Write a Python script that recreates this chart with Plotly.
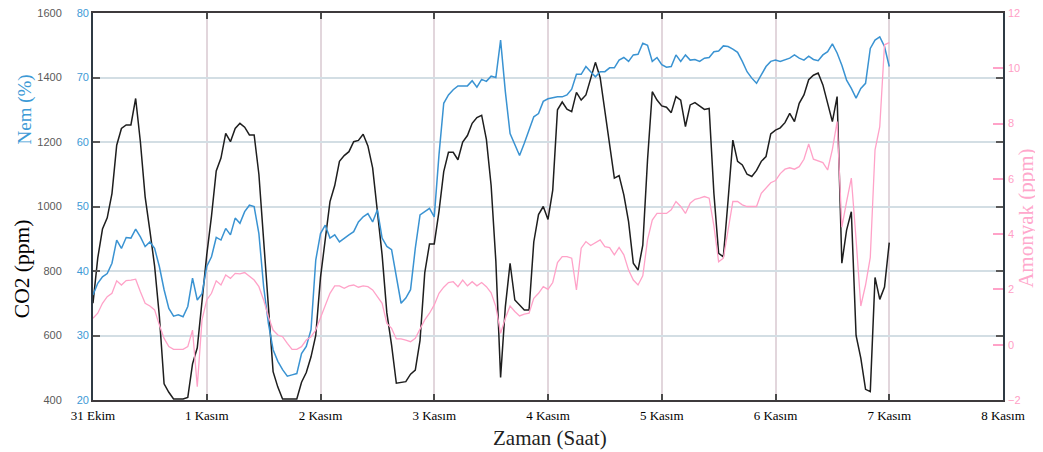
import pandas as pd
import plotly.graph_objects as go

# Hourly samples from 31 Ekim 00:00 to 7 Kasım 00:00
time = pd.date_range("2019-10-31 00:00", periods=169, freq="h")

co2 = [
    700, 840, 930, 965, 1040, 1190, 1242, 1253, 1253, 1335,
    1200, 1030, 925, 815, 660, 450, 424, 403, 403, 403,
    408, 512, 562, 708, 850, 970, 1110, 1150, 1227, 1201,
    1242, 1258, 1246, 1222, 1222, 1100, 898, 670, 488, 440,
    403, 403, 403, 403, 455, 485, 534, 600, 780, 905,
    1015, 1065, 1140, 1158, 1170, 1201, 1205, 1224, 1188, 1120,
    990, 850, 670, 570, 452, 455, 457, 480, 493, 585,
    795, 884, 884, 985, 1108, 1168, 1168, 1145, 1200, 1220,
    1258, 1276, 1283, 1208, 1065, 830, 470, 689, 824, 710,
    695, 679, 679, 890, 975, 1000, 960, 1051, 1300, 1324,
    1302, 1294, 1354, 1330, 1346, 1395, 1447, 1400, 1294, 1195,
    1088, 1096, 1036, 953, 824, 803, 880, 1144, 1356, 1330,
    1312, 1308, 1291, 1341, 1330, 1248, 1315, 1322, 1312, 1301,
    1304, 1041, 855, 844, 1020, 1206, 1140, 1129, 1100, 1093,
    1112, 1140, 1155, 1225, 1237, 1244, 1260, 1289, 1263, 1320,
    1346, 1393, 1407, 1414, 1377, 1318, 1263, 1341, 824, 927,
    984, 600, 530, 433, 426, 780, 712, 750, 888,
]

nem = [
    36.3, 38.1, 39.1, 39.6, 41.2, 44.8, 43.5, 45.2, 45.1, 46.5,
    45.3, 43.8, 44.5, 43.5, 40.7, 37.1, 34.2, 33.0, 33.2, 32.9,
    34.5, 38.9, 35.5, 36.5, 40.7, 42.2, 45.2, 44.8, 46.6, 45.6,
    48.2, 47.4, 49.2, 50.2, 50.0, 45.8, 37.6, 31.9, 27.8, 26.0,
    24.7, 23.7, 23.9, 24.1, 27.2, 28.3, 30.9, 41.7, 45.8, 47.1,
    45.1, 45.6, 44.5, 45.1, 45.6, 46.1, 47.6, 48.4, 48.9, 47.6,
    49.5, 45.1, 43.8, 43.3, 38.9, 35.0, 35.8, 37.1, 43.5, 48.7,
    49.2, 49.7, 48.4, 58.0, 66.0, 67.3, 68.1, 68.7, 68.7, 68.7,
    69.5, 68.5, 69.7, 69.4, 70.2, 70.0, 75.8, 67.8, 61.3, 59.5,
    57.9, 59.8, 61.9, 63.9, 64.4, 66.3, 66.7, 66.9, 67.0, 67.0,
    67.3, 68.2, 70.5, 70.5, 71.7, 70.9, 70.1, 70.9, 70.9, 71.5,
    71.5, 72.7, 73.1, 72.5, 73.5, 73.6, 75.3, 75.0, 72.5, 73.1,
    72.0, 71.6, 71.7, 73.5, 72.5, 73.5, 72.7, 72.8, 72.5, 73.0,
    73.1, 74.0, 74.1, 74.9, 74.8, 74.4, 73.9, 72.5, 70.9, 69.9,
    69.1, 70.4, 71.7, 72.5, 72.7, 72.5, 72.7, 73.0, 73.5, 73.0,
    72.7, 73.3, 72.8, 72.6, 73.5, 74.0, 75.2, 73.8, 71.9, 69.6,
    68.3, 66.8, 68.3, 69.1, 74.5, 75.8, 76.3, 74.8, 71.7,
]

amonyak = [
    0.96, 1.14, 1.50, 1.74, 1.86, 2.31, 2.16, 2.32, 2.34, 2.37,
    1.92, 1.50, 1.40, 1.26, 0.71, 0.23, -0.07, -0.17, -0.17, -0.17,
    -0.07, 0.53, -1.52, 0.90, 1.62, 1.86, 2.31, 2.16, 2.52, 2.40,
    2.58, 2.56, 2.61, 2.49, 2.34, 2.10, 1.62, 1.02, 0.53, 0.35,
    0.29, 0.05, -0.17, -0.17, -0.07, 0.17, 0.29, 0.53, 0.96, 1.44,
    1.86, 2.13, 2.13, 2.04, 2.13, 2.16, 2.08, 2.13, 2.10, 1.98,
    1.76, 1.50, 0.77, 0.59, 0.21, 0.21, 0.17, 0.11, 0.23, 0.59,
    0.90, 1.14, 1.44, 1.86, 2.08, 2.25, 2.28, 2.10, 2.34, 2.13,
    2.28, 2.13, 2.25, 2.10, 1.88, 1.38, 0.41, 0.96, 1.40, 1.20,
    1.04, 1.11, 1.14, 1.68, 1.86, 2.10, 2.00, 2.25, 2.97, 3.19,
    3.19, 3.13, 1.98, 3.49, 3.73, 3.59, 3.69, 3.79, 3.55, 3.51,
    3.25, 3.52, 3.25, 2.70, 2.34, 2.16, 2.49, 3.79, 4.51, 4.75,
    4.75, 4.75, 4.88, 5.18, 5.00, 4.75, 5.12, 5.26, 5.30, 5.36,
    5.30, 4.30, 3.00, 3.13, 4.15, 5.18, 5.18, 5.06, 5.00, 5.00,
    5.00, 5.48, 5.66, 5.86, 5.94, 6.19, 6.35, 6.40, 6.35, 6.44,
    6.71, 7.26, 6.71, 6.66, 6.59, 6.32, 7.07, 8.07, 4.25, 5.18,
    6.03, 3.81, 1.40, 2.16, 3.16, 7.05, 7.89, 10.85, 10.93,
]

day_ticks = pd.date_range("2019-10-31", "2019-11-08", freq="D")
day_labels = ["31 Ekim", "1 Kasım", "2 Kasım", "3 Kasım", "4 Kasım",
              "5 Kasım", "6 Kasım", "7 Kasım", "8 Kasım"]

BLACK = "#1e1e1e"
BLUE = "#3a93d2"
PINK = "#ffa2c8"
SERIF = "Liberation Serif"
SANS = "Liberation Sans"

fig = go.Figure()
fig.add_trace(go.Scatter(x=time, y=co2, yaxis="y", mode="lines",
                         line=dict(color=BLACK, width=1.5), name="CO2"))
fig.add_trace(go.Scatter(x=time, y=nem, yaxis="y2", mode="lines",
                         line=dict(color=BLUE, width=1.5), name="Nem"))
fig.add_trace(go.Scatter(x=time, y=amonyak, yaxis="y3", mode="lines",
                         line=dict(color=PINK, width=1.3), name="Amonyak"))

# The page body adds an 8 px offset, so the figure is 8 px smaller and
# its left/top margins 8 px narrower.
fig.update_layout(
    width=1035, height=444,
    margin=dict(l=85, r=40, t=5, b=52, autoexpand=False),
    paper_bgcolor="white", plot_bgcolor="white",
    showlegend=False,
    xaxis=dict(
        automargin=False,
        range=[day_ticks[0], day_ticks[-1]],
        tickvals=day_ticks, ticktext=day_labels,
        showgrid=True, gridcolor="#e2d6dc", gridwidth=1.5,
        ticks="inside", ticklen=6, tickcolor="#4a4a4a", tickwidth=1.5,
        showline=True, linecolor="#3e3a3c", linewidth=1.5, mirror="ticks",
        tickfont=dict(family=SERIF, size=13, color="black"),
        zeroline=False, ticklabeloverflow="allow", ticklabelstandoff=3,
    ),
    yaxis=dict(
        automargin=False,
        range=[400, 1600], tick0=400, dtick=200,
        showgrid=True, gridcolor="#d3dee4", gridwidth=1.8,
        ticks="inside", ticklen=7, tickcolor="#5a5a5a", tickwidth=1.5,
        showline=True, linecolor="#2f3a44", linewidth=2, mirror="ticks",
        tickfont=dict(family=SANS, size=11, color="#5a5a5a"),
        ticklabelstandoff=27, ticklabeloverflow="allow",
        zeroline=False,
    ),
    yaxis2=dict(
        automargin=False,
        overlaying="y", side="left", anchor="x",
        range=[20, 80], tick0=20, dtick=10,
        showgrid=False, ticks="", showline=False, zeroline=False,
        tickfont=dict(family=SANS, size=11, color="#3d9ad6"),
        ticklabelstandoff=3, ticklabeloverflow="allow",
    ),
    yaxis3=dict(
        automargin=False,
        overlaying="y", side="right", anchor="x",
        range=[-2, 12], tick0=-2, dtick=2,
        showgrid=False, showline=False, zeroline=False,
        ticks="inside", ticklen=10, tickcolor=PINK, tickwidth=1.5,
        tickfont=dict(family=SANS, size=11, color="#ffa0c6"),
        ticklabelstandoff=4, ticklabeloverflow="allow",
    ),
    annotations=[
        dict(text="CO2 (ppm)", xref="paper", yref="paper", x=-0.078, y=0.338,
             textangle=-90, showarrow=False, xanchor="center", yanchor="middle",
             font=dict(family=SERIF, size=21.5, color="black")),
        dict(text="Nem (%)", xref="paper", yref="paper", x=-0.075, y=0.75,
             textangle=-90, showarrow=False, xanchor="center", yanchor="middle",
             font=dict(family=SERIF, size=19, color="#3d9ad6")),
        dict(text="Amonyak (ppm)", xref="paper", yref="paper", x=1.025, y=0.47,
             textangle=-90, showarrow=False, xanchor="center", yanchor="middle",
             font=dict(family=SERIF, size=21, color="#ffa8cc")),
        dict(text="Zaman (Saat)", xref="paper", yref="paper", x=0.502, y=-0.098,
             showarrow=False, xanchor="center", yanchor="middle",
             font=dict(family=SERIF, size=21, color="#222222")),
    ],
)

fig.write_html("out.html")
